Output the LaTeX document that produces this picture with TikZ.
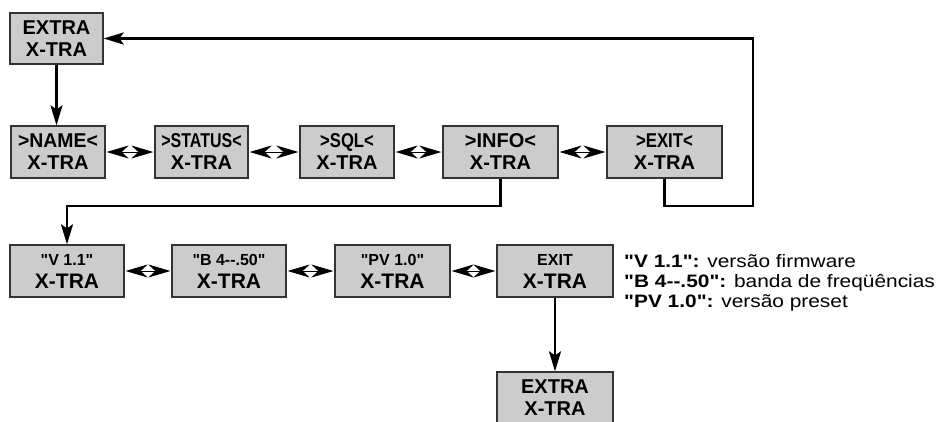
\documentclass[tikz,border=0pt]{standalone}
\usepackage{fontspec}
\setmainfont{Liberation Sans}[Ligatures=TeXOff]
\usetikzlibrary{arrows.meta}
\definecolor{boxgray}{HTML}{CCCCCC}
\definecolor{edgegray}{HTML}{333333}
\newcommand\cnd[2]{\scalebox{#1}[1]{#2}}
\newcommand\hy{\mbox{-}}
\tikzset{
  scrbox/.style={draw=edgegray, line width=1.3pt, fill=boxgray, inner sep=0pt, align=center,
     font=\bfseries\fontsize{20}{22}\selectfont},
  conn/.style={line width=2.4pt, draw=black},
  arr/.style={conn, -{Stealth[length=20pt, width=12pt, inset=4pt]}},
  dbl/.style={line width=1pt, {Stealth[length=22pt, width=13pt, inset=7pt]}-{Stealth[length=22pt, width=13pt, inset=7pt]}, shorten <=1pt, shorten >=1pt},
  legend/.style={anchor=base west, inner sep=0pt, font=\fontsize{18}{20}\selectfont}
}
\begin{document}
\begin{tikzpicture}[x=1pt,y=-1pt]
\useasboundingbox (0,0) rectangle (945,421);
% top
\node[scrbox, minimum width=93pt, minimum height=51pt] (top) at (56.5,38.5) {EXTRA\\X-TRA};
% row 1
\node[scrbox, minimum width=94pt, minimum height=52pt] (name) at (58,152) {\cnd{0.97}{>NAME<}\\X-TRA};
\node[scrbox, minimum width=93pt, minimum height=52pt] (status) at (201.5,152) {\cnd{0.8}{>STATUS<}\\X-TRA};
\node[scrbox, minimum width=94pt, minimum height=52pt] (sql) at (347,152) {\cnd{0.83}{>SQL<}\\X-TRA};
\node[scrbox, minimum width=115pt, minimum height=52pt] (info) at (500.5,152) {>INFO<\\X-TRA};
\node[scrbox, minimum width=115pt, minimum height=52pt] (exit) at (664.5,152) {\cnd{0.84}{>EXIT<}\\X-TRA};
% row 2
\node[scrbox, minimum width=114pt, minimum height=52pt] (v) at (67,271) {{\fontsize{16}{18}\selectfont "V 1.1"}\\[1pt]{\fontsize{21}{22}\selectfont X-TRA}};
\node[scrbox, minimum width=114pt, minimum height=52pt] (b) at (229,271) {{\fontsize{16}{18}\selectfont "B 4\hy\hy.50"}\\[1pt]{\fontsize{21}{22}\selectfont X-TRA}};
\node[scrbox, minimum width=115pt, minimum height=52pt] (pv) at (392.5,271) {{\fontsize{16}{18}\selectfont "PV 1.0"}\\[1pt]{\fontsize{21}{22}\selectfont X-TRA}};
\node[scrbox, minimum width=116pt, minimum height=52pt] (exit2) at (555,271) {{\fontsize{16}{18}\selectfont EXIT}\\[1pt]{\fontsize{21}{22}\selectfont X-TRA}};
% bottom
\node[scrbox, minimum width=116pt, minimum height=52pt] (bot) at (555,398) {EXTRA\\X-TRA};
% double arrows
\draw[dbl] (name.east) -- (status.west);
\draw[dbl] (status.east) -- (sql.west);
\draw[dbl] (sql.east) -- (info.west);
\draw[dbl] (info.east) -- (exit.west);
\draw[dbl] (v.east) -- (b.west);
\draw[dbl] (b.east) -- (pv.west);
\draw[dbl] (pv.east) -- (exit2.west);
% connectors
\coordinate (c1) at (753,206);
\coordinate (c2) at (67,206);
\draw[arr] (top.south) -- (name.north -| top.south);
\draw[arr] (exit.south) |- (c1) |- (top.east);
\draw[arr] (info.south) |- (c2) -- (v.north);
\draw[arr] (exit2.south) -- (bot.north);
% legend
\node[legend] (l1) at (624,267) {\scalebox{1.16}[1]{\textbf{"V 1.1":} versão firmware}};
\node[legend] (l2) at (624,287) {\scalebox{1.16}[1]{\textbf{"B 4\hy\hy.50":} banda de freqüências}};
\node[legend] (l3) at (624,307) {\scalebox{1.16}[1]{\textbf{"PV 1.0":} versão preset}};
\end{tikzpicture}
\end{document}
